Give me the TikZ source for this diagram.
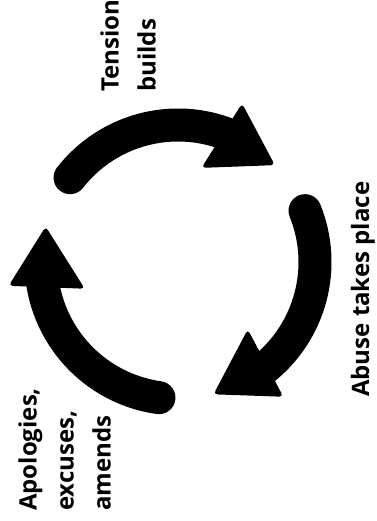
\documentclass[tikz,border=0pt]{standalone}
\usepackage{fontspec}
\setmainfont{Open Sans}
\usetikzlibrary{calc}
\begin{document}
\begin{tikzpicture}[x=1pt,y=1pt,
  arrowbody/.style={line width=33pt, line cap=round},
  arrowhead/.style={fill, rounded corners=4pt},
  lbl/.style={font=\bfseries\fontsize{24}{37}\selectfont, inner sep=0pt, rotate=90, align=left}]
\useasboundingbox (0,0) rectangle (376,521);
\coordinate (C) at (178,259);
\foreach \a in {142,22,262} {
  \draw[arrowbody] ($(C)+({\a}:137)$) arc[start angle=\a, end angle={\a-74}, radius=137];
  \path[arrowhead] ($(C)+({\a-66}:97)$) -- ($(C)+({\a-74}:171)$) -- ($(C)+({\a-97}:137)$) -- cycle;
}
\node[lbl, anchor=south west] (tension) at (156,429) {Tension\\builds};
\node[lbl, anchor=south west] (apol) at (111,10) {Apologies,\\excuses,\\amends};
\node[lbl, anchor=base west] (abuse) at (369,124) {Abuse takes place};
\end{tikzpicture}
\end{document}
